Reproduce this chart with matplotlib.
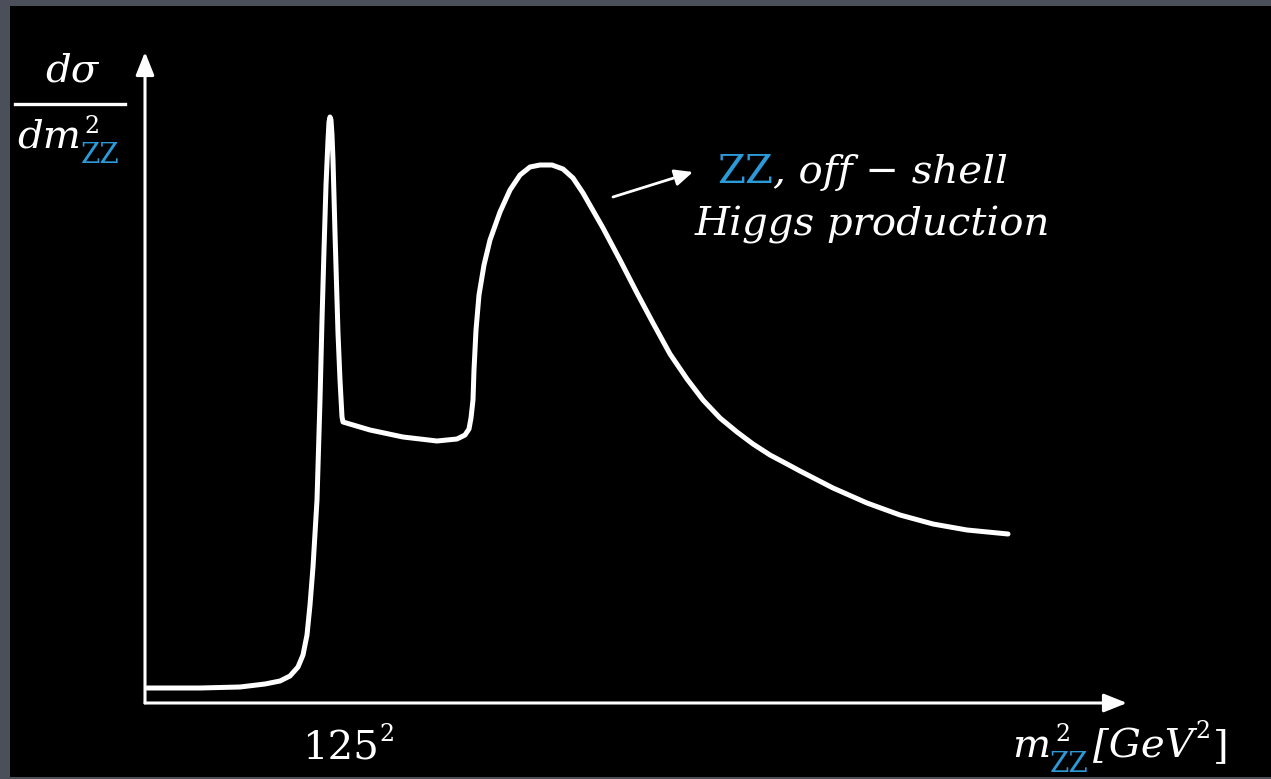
import matplotlib
matplotlib.use("Agg")
import matplotlib.pyplot as plt
from matplotlib.patches import Rectangle, FancyArrowPatch
from matplotlib.lines import Line2D


##############################################################################
# Data (arbitrary units)

# x: m_ZZ^2, y: d sigma / d m_ZZ^2
M2 = [2, 55, 95, 120, 135, 145, 153, 158, 162, 165, 168, 172, 175, 177,
      179, 181, 183, 184, 185, 186, 187, 188, 190, 192, 193, 195, 197, 198,
      225, 258, 292, 312, 320, 324, 326, 328, 329, 331, 334, 339, 345, 355,
      365, 375, 385, 395, 407, 418, 428, 438, 458, 475, 492, 508, 525, 542,
      558, 575, 592, 608, 625, 642, 655, 688, 722, 755, 788, 822, 863]
DSIG = [15, 15, 16, 19, 22, 27, 36, 48, 68, 98, 136, 203, 303, 383,
        453, 518, 563, 581, 586, 583, 568, 543, 470, 403, 370, 323, 286, 281,
        273, 266, 262, 264, 268, 274, 285, 303, 333, 373, 408, 438, 463, 491,
        513, 528, 536, 538, 538, 534, 525, 510, 475, 443, 410, 380, 349, 324,
        303, 285, 271, 259, 248, 239, 232, 215, 200, 188, 179, 173, 169]

X_MAX = 982
Y_MAX = 651

YLABEL_TOP = "dσ"
YLABEL_BOTTOM = "dm"
XLABEL_VAR = "m"
XLABEL_UNIT = "[GeV"
TICK_LABEL = "125"
NOTE_LINE1 = ", off − shell"
NOTE_LINE2 = "Higgs production"
ZZ = "ZZ"


##############################################################################
# Figure setup

W, H = 1271, 779
BG = "#4a4f5a"
BLUE = "#2b9ad8"
SERIF = "DejaVu Serif"

fig = plt.figure(figsize=(W / 100, H / 100), dpi=100, facecolor=BG)
fig.patches.append(Rectangle((10 / W, 2 / H), 1 - 10 / W, (777 - 6) / H,
                             transform=fig.transFigure, facecolor="black",
                             edgecolor="none", zorder=-5))
renderer = fig.canvas.get_renderer()


def fx(px):
    return px / W


def fy(py):
    return 1 - py / H


def put(px, py, s, size, color="white", style="italic"):
    return fig.text(fx(px), fy(py), s, fontsize=size, color=color,
                    family=SERIF, style=style, ha="left", va="baseline")


def width(t):
    return t.get_window_extent(renderer).width


##############################################################################
# Axes + curve

ax = fig.add_axes([fx(145), fy(703), (1127 - 145) / W, (703 - 52) / H])
ax.set_xlim(0, X_MAX)
ax.set_ylim(0, Y_MAX)
ax.axis("off")

ax.plot(M2, DSIG, color="white", lw=3.6, solid_joinstyle="round",
        solid_capstyle="round", clip_on=False)

arrow = dict(arrowstyle="-|>,head_length=0.7,head_width=0.28",
             color="white", lw=2.2, shrinkA=0, shrinkB=0, mutation_scale=20)
ax.annotate("", xy=(1, 0), xytext=(0, 0), xycoords="axes fraction",
            arrowprops=arrow)
ax.annotate("", xy=(0, 1), xytext=(0, 0), xycoords="axes fraction",
            arrowprops=arrow)

##############################################################################
# Labels

FS = 29
FS_SUP = 17
FS_SUB = 20

# y label as a fraction
put(45, 82, YLABEL_TOP, FS)
fig.add_artist(Line2D([fx(15), fx(125)], [fy(104), fy(104)], color="white",
                      lw=2.4, transform=fig.transFigure))
t = put(17, 148, YLABEL_BOTTOM, FS)
x0 = 17 + width(t) + 2
put(x0 + 2, 133, "2", FS_SUP, style="normal")
put(x0 - 2, 163, ZZ, FS_SUB, color=BLUE, style="normal")

# tick label
t = put(302, 760, TICK_LABEL, FS, style="normal")
put(302 + width(t) + 1, 741, "2", FS_SUP, style="normal")

# x label: m^2_ZZ [GeV^2]
t = put(1012, 757, XLABEL_VAR, FS)
x0 = 1012 + width(t) + 2
put(x0 + 3, 741, "2", FS_SUP, style="normal")
tz = put(x0 - 2, 772, ZZ, FS_SUB, color=BLUE, style="normal")
x1 = x0 - 2 + width(tz) + 4
t = put(x1, 757, XLABEL_UNIT, FS)
x2 = x1 + width(t)
t = put(x2 + 2, 738, "2", FS_SUP, style="normal")
put(x2 + width(t) + 4, 757, "]", FS, style="normal")

# annotation
fig.add_artist(FancyArrowPatch(
    (fx(613), fy(197)), (fx(693), fy(172)), transform=fig.transFigure,
    arrowstyle="-|>,head_length=0.55,head_width=0.25", mutation_scale=20,
    color="white", lw=2.0, shrinkA=0, shrinkB=0))
t = put(717, 183, ZZ, FS, color=BLUE, style="normal")
put(717 + width(t), 183, NOTE_LINE1, FS)
put(695, 235, NOTE_LINE2, FS)

fig.savefig("out.png", dpi=100, facecolor=BG)
